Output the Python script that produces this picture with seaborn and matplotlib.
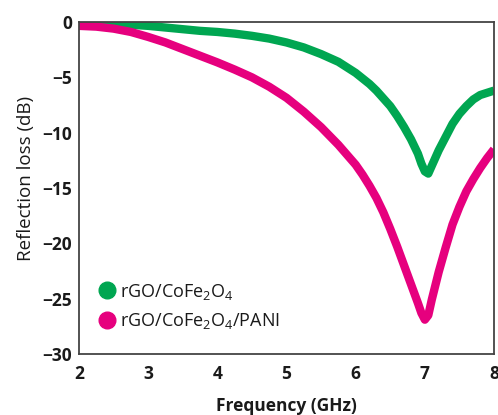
import matplotlib
matplotlib.use("Agg")
import matplotlib.pyplot as plt
from matplotlib.lines import Line2D
import seaborn as sns
import pandas as pd

freq = [2.0, 2.25, 2.5, 2.75, 3.0, 3.25, 3.5, 3.75, 4.0, 4.25, 4.5, 4.75, 5.0,
        5.25, 5.5, 5.75, 6.0, 6.1, 6.2, 6.3, 6.4, 6.5, 6.6, 6.7, 6.8, 6.9,
        6.95, 7.0, 7.05, 7.1, 7.2, 7.3, 7.4, 7.5, 7.6, 7.7, 7.8, 7.9, 8.0]

rl_rgo_cofe = [-0.05, -0.1, -0.15, -0.25, -0.35, -0.5, -0.65, -0.8, -0.9, -1.05, -1.25,
               -1.5, -1.85, -2.3, -2.9, -3.6, -4.6, -5.1, -5.6, -6.2, -6.9, -7.6, -8.5,
               -9.5, -10.6, -11.9, -12.8, -13.5, -13.7, -13.0, -11.6, -10.4, -9.2, -8.3,
               -7.6, -7.0, -6.6, -6.4, -6.2]

rl_rgo_cofe_pani = [-0.35, -0.42, -0.6, -0.9, -1.35, -1.85, -2.45, -3.05, -3.65, -4.3, -5.0,
                    -5.85, -6.85, -8.1, -9.5, -11.1, -12.9, -13.8, -14.8, -15.9, -17.2,
                    -18.7, -20.3, -22.0, -23.7, -25.4, -26.3, -26.9, -26.5, -25.1, -22.6,
                    -20.4, -18.3, -16.7, -15.3, -14.2, -13.2, -12.3, -11.5]

series_names = ["rGO/CoFe$_2$O$_4$", "rGO/CoFe$_2$O$_4$/PANI"]
colors = ["#00A651", "#E6007E"]

xticks = [2, 3, 4, 5, 6, 7, 8]
yticks = [0, -5, -10, -15, -20, -25, -30]

df = pd.DataFrame({
    "Frequency": freq * 2,
    "RL": rl_rgo_cofe + rl_rgo_cofe_pani,
    "Sample": [series_names[0]] * len(freq) + [series_names[1]] * len(freq),
})

sns.set_theme(style="white")
plt.rcParams["font.family"] = ["Open Sans", "DejaVu Sans"]
plt.rcParams["mathtext.fontset"] = "custom"
plt.rcParams["mathtext.rm"] = "Open Sans"
plt.rcParams["mathtext.it"] = "Open Sans"
plt.rcParams["mathtext.bf"] = "Open Sans:bold"
plt.rcParams["text.color"] = "#1a1a1a"

fig = plt.figure(figsize=(4.98, 4.15), dpi=100)
ax = fig.add_axes([0.1586, 0.147, 0.8334, 0.800])

sns.lineplot(data=df, x="Frequency", y="RL", hue="Sample", palette=colors,
             hue_order=series_names, linewidth=6, legend=False, ax=ax,
             solid_joinstyle="round", solid_capstyle="butt")

ax.set_xlim(2, 8)
ax.set_ylim(-30, 0)
ax.set_xticks(xticks)
ax.set_yticks(yticks)
ax.set_xticklabels([str(t) for t in xticks], fontsize=12.5, fontweight="bold",
                   color="#1a1a1a")
ax.set_yticklabels(["0" if t == 0 else "\u2212" + str(abs(t)) for t in yticks],
                   fontsize=12.5, fontweight="bold", color="#1a1a1a")
ax.tick_params(axis="both", length=0)
ax.tick_params(axis="x", pad=8)
ax.tick_params(axis="y", pad=5)
ax.set_xlabel("Frequency (GHz)", fontsize=12.5, fontweight="bold", labelpad=10,
              color="#1a1a1a")
ax.set_ylabel("Reflection loss (dB)", fontsize=13.5, color="#1a1a1a")
ax.yaxis.set_label_coords(-0.106, 0.53)

for s in ax.spines.values():
    s.set_color("#444444")
    s.set_linewidth(1.3)

handles = [Line2D([], [], linestyle="none", marker="o", markersize=12,
                  markerfacecolor=c, markeredgecolor=c) for c in colors]
ax.legend(handles, series_names, loc="center left", bbox_to_anchor=(0.046, 0.143),
          frameon=False, fontsize=13, handletextpad=0.22, labelspacing=0.55,
          borderpad=0, borderaxespad=0, handlelength=1.0)

fig.savefig("out.png", dpi=100)
